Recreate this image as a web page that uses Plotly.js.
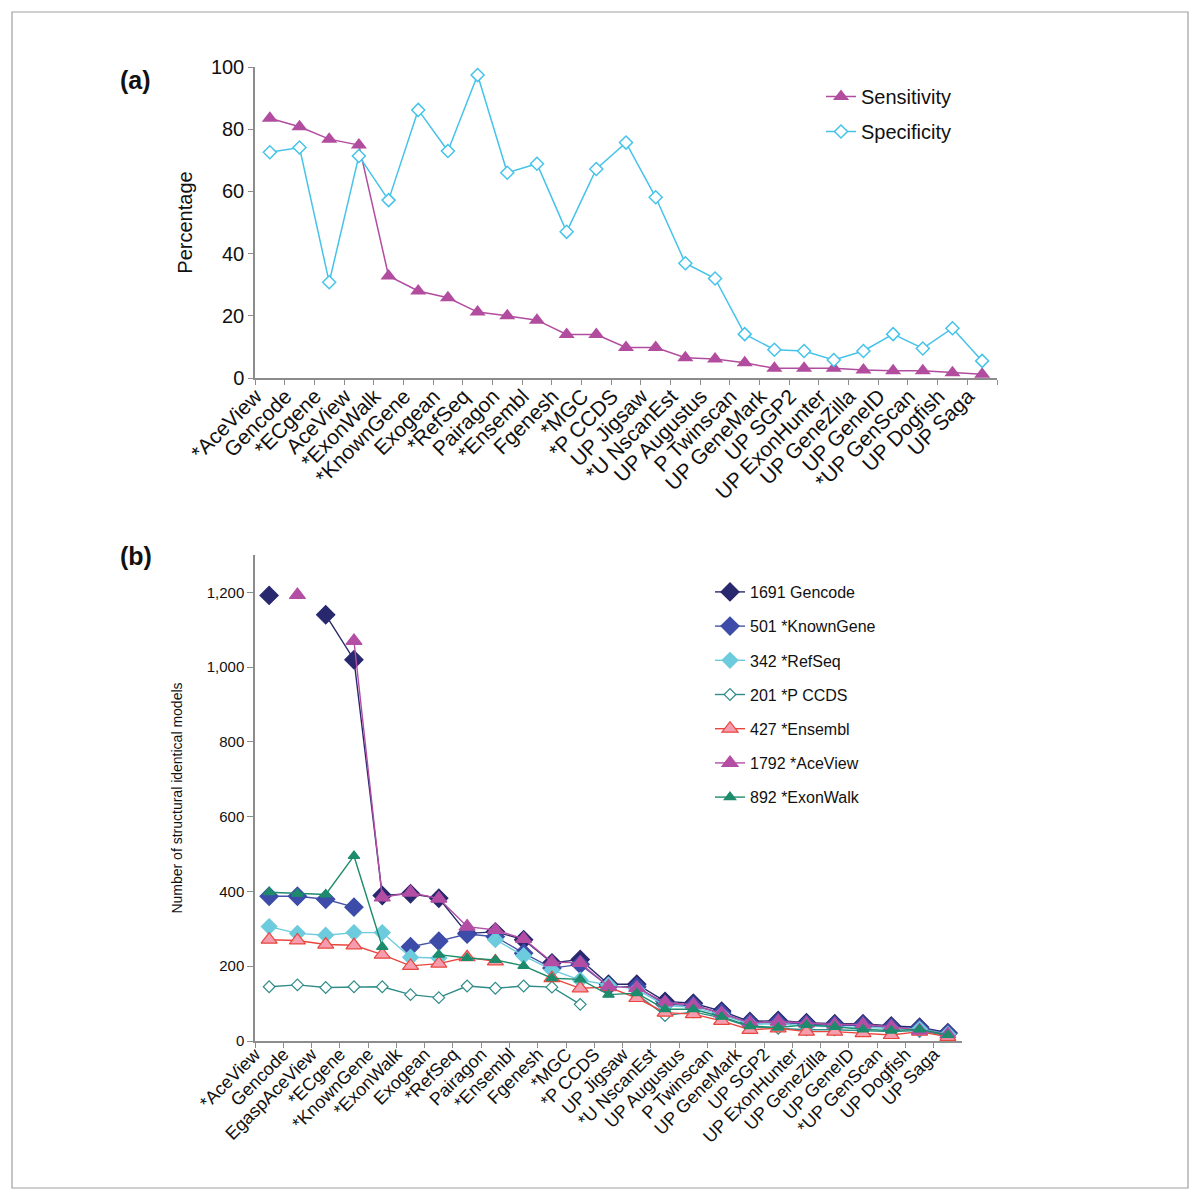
<!DOCTYPE html>
<html>
<head>
<meta charset="utf-8">
<script src="https://cdn.plot.ly/plotly-3.0.1.min.js"></script>
<style>
  body { margin: 0; background: #fff; }
  #chart { width: 1200px; height: 1199px; }
</style>
</head>
<body>
<div id="chart"></div>
<script>
// panel (a) - sensitivity / specificity per gene set
const predictorsA = ['*AceView','Gencode','*ECgene','AceView','*ExonWalk','*KnownGene','Exogean','*RefSeq','Pairagon','*Ensembl',
    'Fgenesh','*MGC','*P CCDS','UP Jigsaw','*U NscanEst','UP Augustus','P Twinscan','UP GeneMark','UP SGP2','UP ExonHunter',
    'UP GeneZilla','UP GeneID','*UP GenScan','UP Dogfish','UP Saga'];
const sensitivity = [83.5, 80.8, 76.8, 74.9, 32.8, 28, 25.8, 21.2, 20, 18.6, 14, 14, 9.8, 9.8, 6.5, 6.1, 4.9, 3.1, 3.1, 3.1, 2.6, 2.3, 2.3, 1.7, 1.2];
const specificity = [72.6, 74.1, 30.8, 71.4, 57.2, 86.2, 73, 97.4, 66, 68.9, 47, 67.2, 75.7, 58.1, 36.9, 32, 14.1, 9.1, 8.7, 5.8, 8.7, 14.1, 9.5, 16, 5.5];

// panel (b) - structural identical models against each reference set
const predictorsB = ['*AceView','Gencode','EgaspAceView','*ECgene','*KnownGene','*ExonWalk','Exogean','*RefSeq','Pairagon','*Ensembl',
    'Fgenesh','*MGC','*P CCDS','UP Jigsaw','*U NscanEst','UP Augustus','P Twinscan','UP GeneMark','UP SGP2','UP ExonHunter',
    'UP GeneZilla','UP GeneID','*UP GenScan','UP Dogfish','UP Saga'];
const gencode    = [1192, null, 1140, 1020, 389, 394, 382, 288, 292, 271, 209, 218, 152, 152, 106, 101, 80, 52, 55, 49, 46, 46, 40, 37, 22];
const knownGene  = [387, 387, 379, 358, null, 252, 267, 286, 279, 235, 195, 205, 146, 145, 98, 95, 75, 48, 50, 45, 42, 42, 36, 34, 20];
const refSeq     = [306, 288, 283, 290, 290, 224, 222, null, 271, 228, 190, 163, 150, 138, 95, 90, 70, 45, 46, 40, 38, 36, 32, 32, 18];
const pCcds      = [145, 150, 143, 145, 145, 124, 116, 147, 141, 147, 144, 98, null, 125, 68, 78, 62, 38, 34, 30, 30, 28, 25, 28, 14];
const ensembl    = [271, 269, 258, 256, 231, 201, 207, 224, 213, null, 168, 141, 144, 115, 76, 72, 54, 30, 34, 25, 25, 21, 16, 25, 11];
const aceView    = [null, 1193, null, 1070, 384, 397, 381, 306, 297, 273, 211, 209, 146, 142, 103, 97, 74, 49, 52, 47, 44, 44, 38, 28, 18];
const exonWalk   = [398, 394, 392, 495, 252, null, 231, 222, 217, 201, 168, 165, 124, 128, 85, 85, 65, 40, 36, 43, 38, 31, 28, 31, 16];

const legendNamesB = ['1691 Gencode','501 *KnownGene','342 *RefSeq','201 *P CCDS','427 *Ensembl','1792 *AceView','892 *ExonWalk'];

var CHART = document.getElementById('chart');
var axisGrey = '#8c8c8c';
var fontFam = 'Liberation Sans, Arial, sans-serif';

var sensTrace = {
    x: predictorsA, y: sensitivity, xaxis: 'x', yaxis: 'y',
    mode: 'lines+markers', name: 'Sensitivity', legend: 'legend', legendgroup: 'a1',
    line: {color: '#b14c9f', width: 1.5},
    marker: {symbol: 'triangle-up', size: 14, color: '#b14c9f'}
};
var specTrace = {
    x: predictorsA, y: specificity, xaxis: 'x', yaxis: 'y',
    mode: 'lines+markers', name: 'Specificity', legend: 'legend', legendgroup: 'a2',
    line: {color: '#45c3ea', width: 1.5},
    marker: {symbol: 'diamond', size: 10, color: '#ffffff', line: {color: '#45c3ea', width: 1.5}}
};

function seriesB(y, idx, lineColor, symbol, size, fill, outline){
    return {
        x: predictorsB, y: y, xaxis: 'x2', yaxis: 'y2',
        mode: 'lines+markers', name: legendNamesB[idx], legend: 'legend2',
        legendgroup: 'g' + idx,
        line: {color: lineColor, width: 1.4},
        marker: {symbol: symbol, size: size, color: fill, line: {color: outline, width: 1.2}}
    };
}

var bTraces = [
    seriesB(gencode,   0, '#28286e', 'diamond', 14, '#28286e', '#28286e'),
    seriesB(knownGene, 1, '#4653a6', 'diamond', 14, '#3c4ca8', '#3c4ca8'),
    seriesB(refSeq,    2, '#6ccbdc', 'diamond', 12, '#6ccbdc', '#6ccbdc'),
    seriesB(pCcds,     3, '#2f8c88', 'diamond', 9,  '#ffffff', '#2f8c88'),
    seriesB(ensembl,   4, '#e8473e', 'triangle-up', 14, '#f59cae', '#e8473e'),
    seriesB(aceView,   5, '#b34ea4', 'triangle-up', 14, '#b34ea4', '#b34ea4'),
    seriesB(exonWalk,  6, '#1d8b6c', 'triangle-up', 10, '#1d8b6c', '#1d8b6c')
];

var layout = {
    width: 1200,
    height: 1199,
    margin: {l: 0, r: 0, t: 0, b: 0},
    paper_bgcolor: '#ffffff',
    plot_bgcolor: '#ffffff',
    font: {family: fontFam, color: '#111111'},
    showlegend: true,
    xaxis: {
        domain: [255/1200, 997/1200], anchor: 'y',
        type: 'category', range: [-0.5, 24.5], showgrid: false, zeroline: false,
        showline: true, linecolor: axisGrey, linewidth: 1.5,
        ticks: 'outside', tickson: 'boundaries', ticklen: 5, tickcolor: axisGrey,
        tickangle: -45, tickfont: {size: 21, color: '#111'},
        ticklabelshift: -14, ticklabelstandoff: -4
    },
    yaxis: {
        domain: [(1199-378)/1199, (1199-67)/1199], anchor: 'x',
        range: [0, 100], dtick: 20, showgrid: false, zeroline: false,
        showline: true, linecolor: axisGrey, linewidth: 1.5,
        ticks: 'outside', ticklen: 5, tickcolor: axisGrey,
        tickfont: {size: 20, color: '#111'},
        title: {text: 'Percentage', font: {size: 20, color: '#111'}, standoff: 13}
    },
    xaxis2: {
        domain: [255/1200, 962/1200], anchor: 'y2',
        type: 'category', range: [-0.5, 24.5], showgrid: false, zeroline: false,
        showline: true, linecolor: axisGrey, linewidth: 1.5,
        ticks: 'outside', tickson: 'boundaries', ticklen: 5, tickcolor: axisGrey,
        tickangle: -45, tickfont: {size: 18, color: '#111'},
        ticklabelshift: -14, ticklabelstandoff: -6
    },
    yaxis2: {
        domain: [(1199-1041)/1199, (1199-555)/1199], anchor: 'x2',
        range: [0, 1300], tickvals: [0, 200, 400, 600, 800, 1000, 1200], tickformat: ',d',
        showgrid: false, zeroline: false,
        showline: true, linecolor: axisGrey, linewidth: 1.5,
        ticks: 'outside', ticklen: 6, tickcolor: axisGrey,
        tickfont: {size: 15, color: '#111'},
        title: {text: 'Number of structural identical models', font: {size: 14, color: '#111'}, standoff: 21}
    },
    legend: {
        x: 821/1200, y: 1 - 77/1199, xanchor: 'left', yanchor: 'top',
        bgcolor: 'rgba(0,0,0,0)', font: {size: 20, color: '#111'},
        traceorder: 'grouped', tracegroupgap: 6
    },
    legend2: {
        x: 710/1200, y: 1 - 575/1199, xanchor: 'left', yanchor: 'top',
        bgcolor: 'rgba(0,0,0,0)', font: {size: 16, color: '#111'},
        traceorder: 'grouped', tracegroupgap: 10.4
    },
    annotations: [
        {text: '<b>(a)</b>', x: 118/1200, y: 1 - 80/1199, xref: 'paper', yref: 'paper',
         xanchor: 'left', yanchor: 'middle', showarrow: false, font: {size: 25, color: '#111'}},
        {text: '<b>(b)</b>', x: 118/1200, y: 1 - 556/1199, xref: 'paper', yref: 'paper',
         xanchor: 'left', yanchor: 'middle', showarrow: false, font: {size: 25, color: '#111'}}
    ],
    shapes: [
        {type: 'rect', xref: 'paper', yref: 'paper', x0: 12/1200, x1: 1188/1200, y0: 1 - 1188/1199, y1: 1 - 12/1199,
         line: {color: '#a0a0a0', width: 1.2}, fillcolor: 'rgba(0,0,0,0)'}
    ]
};

var config = {displayModeBar: false, responsive: false};

Plotly.newPlot(CHART, [sensTrace, specTrace].concat(bTraces), layout, config);
</script>
</body>
</html>
